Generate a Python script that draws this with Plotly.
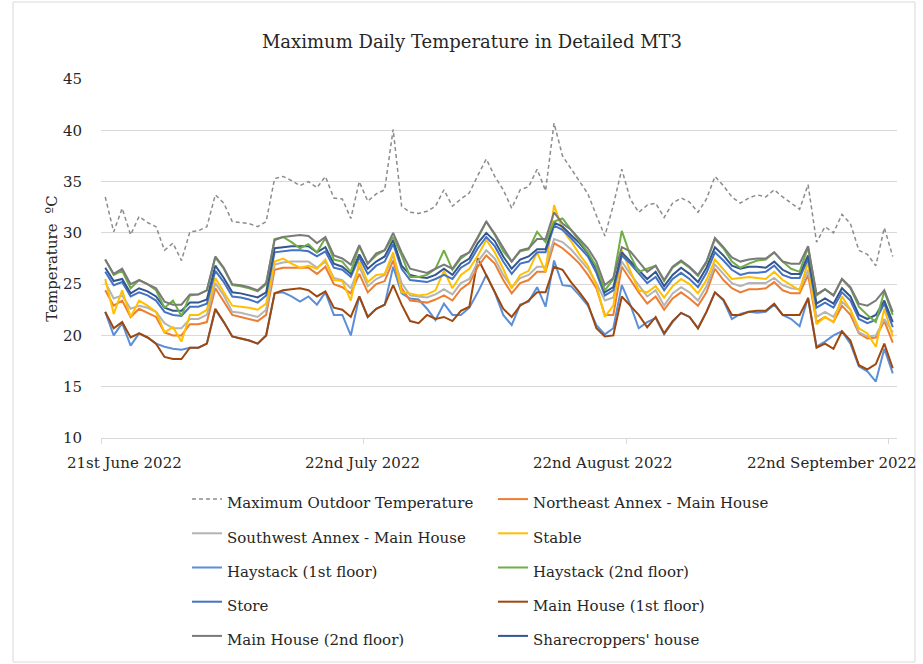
import plotly.graph_objects as go
import pandas as pd

dates = pd.date_range("2022-06-21", periods=94, freq="D")

outdoor = [33.5, 30.1, 32.4, 29.8, 31.6, 31.0, 30.6, 28.3, 29.0, 27.3, 30.1, 30.2, 30.6, 33.7, 32.9, 31.1,
           31.0, 30.9, 30.6, 31.1, 35.3, 35.5, 35.1, 34.6, 35.0, 34.4, 35.5, 33.4, 33.3, 31.4, 35.0,
           33.1, 33.8, 34.2, 40.1, 32.6, 32.0, 31.9, 32.1, 32.6, 34.2, 32.6, 33.3, 33.9, 35.6, 37.2, 35.5,
           34.2, 32.4, 34.2, 34.5, 36.2, 34.1, 40.7, 37.5, 36.3, 35.1, 33.8, 31.7, 29.7, 32.7, 36.2, 33.3,
           32.0, 32.7, 32.9, 31.5, 32.9, 33.4, 33.0, 32.0, 33.3, 35.5, 34.6, 33.5, 32.9, 33.4, 33.7,
           33.5, 34.2, 33.5, 32.9, 32.3, 34.7, 29.1, 30.6, 30.0, 31.8, 30.9, 28.3, 27.9, 26.8, 30.5, 27.7]

northeast = [24.4, 22.9, 23.4, 21.8, 22.6, 22.2, 21.8, 20.3, 20.0, 20.0, 21.1, 21.1, 21.3, 24.6, 23.3, 22.0,
             21.8, 21.6, 21.4, 22.0, 26.4, 26.6, 26.6, 26.6, 26.6, 26.0, 26.7, 25.0, 24.7, 24.1, 26.0,
             24.2, 25.0, 25.3, 27.3, 24.6, 23.4, 23.3, 23.2, 23.5, 23.9, 23.4, 24.5, 25.1, 26.7, 27.8, 27.0,
             25.4, 24.1, 25.1, 25.4, 26.2, 26.2, 29.0, 28.5, 27.8, 27.0, 25.9, 24.6, 22.0, 22.0, 26.7, 25.4,
             24.2, 23.1, 23.8, 22.5, 23.6, 24.2, 23.6, 22.9, 24.2, 26.5, 25.4, 24.6, 24.2, 24.5, 24.5,
             24.6, 25.2, 24.4, 24.1, 24.1, 25.9, 21.3, 21.8, 21.3, 22.9, 22.0, 20.2, 19.7, 19.8, 21.4, 19.3]

southwest = [25.2, 23.6, 23.9, 22.6, 22.9, 22.7, 22.3, 21.2, 20.7, 20.7, 21.6, 21.6, 22.0, 25.1, 23.9, 22.3,
             22.2, 22.0, 21.8, 22.5, 26.9, 27.1, 27.2, 27.2, 27.2, 26.6, 27.2, 25.6, 25.4, 24.6, 26.7,
             24.8, 25.5, 25.9, 27.8, 25.1, 23.9, 23.8, 23.7, 24.0, 24.5, 24.0, 25.1, 25.5, 27.2, 28.3, 27.5,
             25.9, 24.7, 25.6, 25.9, 26.7, 26.7, 29.4, 29.1, 28.4, 27.5, 26.5, 25.1, 23.4, 23.7, 27.2, 26.0,
             24.9, 23.8, 24.4, 22.9, 24.1, 24.7, 24.2, 23.4, 24.8, 26.9, 26.0, 25.1, 24.8, 25.1, 25.1,
             25.1, 25.6, 24.9, 24.6, 24.5, 26.4, 21.8, 22.3, 21.8, 23.3, 22.5, 20.3, 19.9, 20.0, 21.6, 20.3]

stable = [25.5, 22.1, 24.4, 21.8, 23.4, 22.9, 22.3, 20.3, 20.8, 19.4, 22.0, 22.0, 22.5, 25.6, 24.2, 22.9,
          22.8, 22.7, 22.5, 23.1, 27.2, 27.5, 27.0, 26.6, 26.8, 26.5, 27.4, 25.4, 25.3, 23.4, 27.2,
          25.2, 25.9, 26.0, 28.1, 24.2, 24.1, 23.9, 24.0, 24.4, 26.3, 24.6, 25.9, 26.5, 27.8, 29.3, 28.1,
          26.5, 24.6, 25.9, 26.3, 28.1, 26.2, 32.7, 30.3, 29.2, 27.9, 26.8, 24.9, 21.8, 22.9, 28.3, 26.3,
          24.4, 24.2, 24.8, 23.7, 24.8, 25.5, 25.0, 24.1, 25.4, 27.4, 26.5, 25.5, 25.6, 25.7, 25.6,
          25.5, 26.2, 25.4, 24.9, 24.4, 27.2, 21.1, 21.8, 21.3, 23.8, 22.5, 20.7, 20.2, 18.9, 22.6, 19.9]

haystack_1 = [22.3, 20.0, 21.2, 19.0, 20.2, 19.8, 19.2, 18.9, 18.7, 18.6, 18.8, 18.8, 19.2, 22.5, 21.3, 19.9,
              19.7, 19.5, 19.2, 20.0, 24.1, 24.2, 23.8, 23.3, 23.8, 23.0, 24.2, 22.0, 22.0, 20.0, 23.8,
              21.8, 22.6, 23.0, 26.7, 24.1, 23.6, 23.5, 22.6, 21.5, 23.1, 22.0, 22.0, 22.7, 24.2, 25.9, 24.2,
              22.0, 21.0, 23.0, 23.3, 24.7, 22.8, 27.3, 24.9, 24.8, 23.9, 22.9, 21.0, 20.1, 20.7, 24.9, 23.0,
              20.7, 21.3, 21.7, 20.1, 21.3, 22.2, 21.8, 20.7, 22.3, 24.2, 23.4, 21.6, 22.1, 22.3, 22.2,
              22.3, 23.0, 22.0, 21.6, 20.9, 23.7, 18.9, 19.4, 20.0, 20.4, 19.2, 17.0, 16.5, 15.5, 18.7, 16.3]

haystack_2 = [27.4, 25.9, 26.3, 24.6, 25.4, 25.0, 24.4, 22.7, 23.4, 21.9, 23.9, 24.0, 24.4, 27.6, 26.5, 24.9,
              24.8, 24.6, 24.3, 25.0, 29.4, 29.6, 29.1, 28.5, 28.9, 28.1, 29.5, 27.4, 27.2, 26.2, 28.7,
              27.0, 27.8, 28.3, 29.6, 27.8, 25.7, 25.7, 25.9, 26.5, 28.3, 26.4, 27.5, 28.1, 29.5, 31.1, 29.8,
              28.2, 27.2, 28.2, 28.4, 30.1, 29.1, 31.1, 31.4, 30.3, 29.2, 28.1, 26.7, 24.4, 25.5, 30.2, 27.8,
              26.2, 26.5, 26.8, 25.3, 26.6, 27.2, 26.6, 25.8, 27.1, 29.4, 28.5, 27.2, 26.6, 27.0, 27.3,
              27.4, 28.1, 27.2, 26.5, 26.2, 28.6, 23.9, 24.5, 23.9, 25.5, 24.6, 22.8, 22.0, 21.3, 24.3, 22.0]

store = [26.2, 24.9, 25.2, 23.8, 24.2, 23.9, 23.4, 22.3, 22.0, 21.9, 22.8, 22.8, 23.1, 26.3, 25.2, 23.8,
         23.7, 23.5, 23.2, 23.9, 28.1, 28.2, 28.3, 28.3, 28.2, 27.7, 28.2, 26.6, 26.4, 25.7, 27.6,
         26.0, 26.8, 27.2, 28.9, 26.5, 25.4, 25.3, 25.2, 25.5, 25.9, 25.5, 26.6, 27.1, 28.5, 29.6, 28.7,
         27.2, 26.0, 27.0, 27.2, 28.1, 28.1, 30.7, 30.3, 29.5, 28.6, 27.7, 26.1, 23.9, 24.4, 27.8, 27.0,
         26.0, 25.1, 25.7, 24.4, 25.5, 26.1, 25.5, 24.7, 26.1, 28.1, 27.3, 26.4, 25.9, 26.1, 26.1,
         26.2, 26.8, 25.9, 25.6, 25.6, 27.5, 22.7, 23.2, 22.7, 24.2, 23.4, 21.6, 21.2, 21.5, 23.1, 20.8]

main_house_1 = [22.3, 20.7, 21.3, 19.8, 20.2, 19.8, 19.2, 17.9, 17.7, 17.7, 18.8, 18.8, 19.2, 22.6, 21.3, 19.9,
                19.7, 19.5, 19.2, 20.0, 24.1, 24.4, 24.5, 24.6, 24.4, 23.8, 24.3, 22.7, 22.5, 21.8, 23.8,
                21.8, 22.6, 23.0, 24.9, 23.0, 21.4, 21.2, 22.0, 21.6, 21.8, 21.4, 22.4, 22.8, 27.5, 25.9, 24.2,
                22.6, 21.8, 22.9, 23.4, 24.2, 24.2, 26.7, 26.4, 25.2, 24.2, 23.1, 20.7, 19.9, 20.0, 23.8, 22.9,
                22.0, 20.8, 21.8, 20.2, 21.4, 22.2, 21.8, 20.7, 22.3, 24.2, 23.5, 22.0, 22.0, 22.3, 22.4,
                22.4, 23.1, 22.0, 22.0, 22.0, 23.6, 18.8, 19.2, 18.7, 20.4, 19.5, 17.1, 16.7, 17.2, 19.2, 16.8]

main_house_2 = [27.4, 26.0, 26.5, 25.0, 25.4, 25.0, 24.6, 23.3, 23.0, 23.0, 24.0, 24.0, 24.4, 27.7, 26.6, 25.0,
                24.9, 24.7, 24.4, 25.1, 29.3, 29.6, 29.7, 29.8, 29.7, 29.0, 29.6, 27.8, 27.5, 26.9, 28.8,
                27.0, 28.0, 28.3, 30.0, 28.1, 26.5, 26.3, 26.1, 26.5, 26.9, 26.5, 27.7, 28.1, 29.6, 31.1, 29.9,
                28.5, 27.2, 28.3, 28.5, 29.4, 29.4, 32.0, 30.9, 30.3, 29.4, 28.5, 27.2, 24.9, 25.6, 28.6, 28.2,
                27.2, 26.2, 26.8, 25.4, 26.7, 27.3, 26.7, 25.9, 27.2, 29.5, 28.6, 27.6, 27.2, 27.4, 27.5,
                27.5, 28.1, 27.2, 27.0, 27.0, 28.7, 24.0, 24.5, 23.9, 25.5, 24.7, 23.1, 22.9, 23.4, 24.4, 22.3]

sharecroppers = [26.6, 25.3, 25.5, 24.1, 24.6, 24.3, 23.8, 22.7, 22.4, 22.4, 23.2, 23.2, 23.5, 26.8, 25.6, 24.2,
                 24.1, 23.9, 23.7, 24.2, 28.5, 28.6, 28.7, 28.7, 28.7, 28.1, 28.6, 27.0, 26.7, 26.0, 27.9,
                 26.5, 27.2, 27.7, 29.3, 26.8, 25.9, 25.7, 25.6, 25.9, 26.5, 25.9, 27.0, 27.5, 29.0, 30.0, 29.2,
                 27.7, 26.5, 27.4, 27.7, 28.4, 28.4, 31.0, 30.6, 29.8, 29.0, 28.0, 26.5, 24.2, 24.7, 28.1, 27.2,
                 26.4, 25.5, 26.2, 24.8, 25.9, 26.6, 26.0, 25.2, 26.6, 28.6, 27.8, 26.8, 26.5, 26.7, 26.7,
                 26.6, 27.2, 26.4, 26.0, 26.0, 27.8, 23.1, 23.6, 23.1, 24.6, 23.8, 22.0, 21.6, 22.0, 23.4, 21.3]

series_names = ["Maximum Outdoor Temperature", "Northeast Annex - Main House",
                "Southwest Annex - Main House", "Stable",
                "Haystack (1st floor)", "Haystack (2nd floor)",
                "Store", "Main House (1st floor)",
                "Main House (2nd floor)", "Sharecroppers' house"]
series_values = [outdoor, northeast, southwest, stable, haystack_1, haystack_2,
                 store, main_house_1, main_house_2, sharecroppers]
series_colors = ["#8c8c8c", "#ED7D31", "#B4B4B4", "#FFC000", "#5B8FD9", "#70AD47",
                 "#4472C4", "#9E480E", "#7A7A7A", "#34568F"]

y_ticks = [10, 15, 20, 25, 30, 35, 40, 45]
x_tick_labels = ["21st June 2022", "22nd July 2022", "22nd August 2022", "22nd September 2022"]

FONT = "DejaVu Serif"
W, H = 923, 664
L, R, T, B = 101, 26, 79, 226
PW, PH = W - L - R, H - T - B

fig = go.Figure()
# draw order: lower lines first, top ones last
draw_order = [0, 4, 7, 1, 2, 3, 6, 9, 5, 8]
for k in draw_order:
    fig.add_trace(go.Scatter(
        x=dates, y=series_values[k], mode="lines",
        name='<span style="font-size:15px">' + series_names[k] + "</span>",
        line=dict(color=series_colors[k], width=1.5 if k == 0 else 2,
                  dash="4px,3px" if k == 0 else "solid"),
        legendrank=k + 1,
        hovertemplate="%{x|%d %b %Y}: %{y:.1f} ºC<extra>" + series_names[k] + "</extra>",
    ))

# category label positions (pixel centres in the original)
label_px = [124, 362, 603, 832]
for lab, px in zip(x_tick_labels, label_px):
    fig.add_annotation(text=lab, xref="paper", yref="paper",
                       x=(px - L) / PW, y=-25 / PH, showarrow=False,
                       xanchor="center", yanchor="middle",
                       font=dict(family=FONT, size=15, color="#262626"))

fig.update_layout(
    width=W, height=H,
    margin=dict(l=L, r=R, t=T, b=B, autoexpand=False),
    paper_bgcolor="white", plot_bgcolor="white",
    title=dict(text="Maximum Daily Temperature in Detailed MT3",
               x=472 / W, xanchor="center", y=1 - 42 / H, yanchor="middle",
               font=dict(family=FONT, size=18, color="#262626")),
    font=dict(family=FONT, color="#262626"),
    showlegend=True,
    legend=dict(orientation="h", x=(187 - L) / PW, xanchor="left",
                y=-(477 - T - PH) / PH, yanchor="top",
                entrywidth=261, entrywidthmode="pixels",
                font=dict(family=FONT, size=24, color="#262626"),
                bgcolor="rgba(0,0,0,0)", traceorder="normal"),
    xaxis=dict(range=["2022-06-20 12:00", "2022-09-22 12:00"],
               tickvals=["2022-06-20 12:00", "2022-07-21 12:00", "2022-08-21 12:00", "2022-09-21 12:00"],
               ticktext=["", "", "", ""],
               ticks="outside", ticklen=5, tickcolor="#d9d9d9", tickwidth=1.3,
               showgrid=False, showline=True, linecolor="#d9d9d9", linewidth=1.3,
               zeroline=False, fixedrange=True),
    yaxis=dict(range=[10, 45], tickvals=y_ticks, ticktext=[str(v) for v in y_ticks],
               showgrid=True, gridcolor="#d9d9d9", gridwidth=1.3,
               showline=False, zeroline=False, ticks="", ticklabelstandoff=18,
               tickfont=dict(family=FONT, size=15, color="#262626"),
               title=dict(text="Temperature \u00a0ºC", standoff=1,
                          font=dict(family=FONT, size=15, color="#262626")),
               automargin=False, fixedrange=True),
)

# light frame around the whole chart
fig.add_shape(type="rect", xref="paper", yref="paper",
              x0=(13 - L) / PW, x1=(915 - L) / PW, y0=-(662 - T - PH) / PH, y1=1 + (T - 2) / PH,
              line=dict(color="#d9d9d9", width=1), fillcolor="rgba(0,0,0,0)", layer="below")

fig.write_html("out.html", config={"displayModeBar": False},
               post_script="document.body.style.margin='0';")
